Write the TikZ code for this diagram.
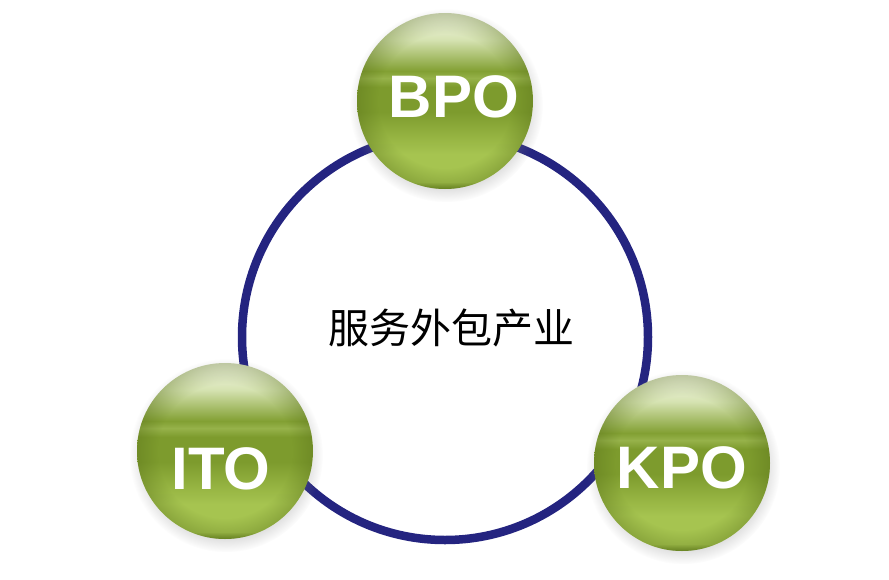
\documentclass[tikz,border=0pt]{standalone}
\usepackage{fontspec}
\usepackage{xcolor}
\usepackage{tikz}
\usetikzlibrary{shadows, fadings}
\newfontfamily\ballfont{Liberation Sans}
\newfontfamily\cjk{Noto Sans CJK SC}

\definecolor{ringblue}{RGB}{36,36,128}
\definecolor{balltop}{RGB}{246,248,236}
\definecolor{ballpale}{RGB}{214,227,178}
\definecolor{ballhi}{RGB}{150,178,74}
\definecolor{ballmid}{RGB}{125,155,45}
\definecolor{ballbot}{RGB}{166,196,80}
\definecolor{ballrim}{RGB}{86,110,24}

% 25bp = bottom of the ball, 75bp = top of the ball
\pgfdeclareverticalshading{ballshade}{100bp}{color(0bp)=(ballmid!90!black); color(25bp)=(ballmid!90!black); color(27bp)=(ballbot); color(35bp)=(ballbot); color(47bp)=(ballmid); color(54bp)=(ballmid); color(56.5bp)=(ballhi); color(58.5bp)=(ballmid!80!ballhi); color(67.5bp)=(ballpale); color(75bp)=(balltop); color(100bp)=(balltop)}
\pgfdeclareradialshading{rimshade}{\pgfpointorigin}{color(0bp)=(black); color(19bp)=(black); color(25bp)=(black!65); color(50bp)=(black!65)}
\pgfdeclarefading{rimfade}{\pgfuseshading{rimshade}}

\begin{document}
\begin{tikzpicture}[x=1pt, y=-1pt]
\tikzstyle{ring} = [draw=ringblue, line width=8.5pt, shape=circle, minimum size=406pt, inner sep=0pt]
\tikzstyle{ball} = [shape=circle, minimum size=176pt, inner sep=0pt, shading=ballshade,
  circular drop shadow={shadow xshift=1pt, shadow yshift=-4pt, opacity=.25},
  path picture={\fill[ballrim, path fading=rimfade] (path picture bounding box.south west) rectangle (path picture bounding box.north east);}]
\tikzstyle{tag} = [text=white, font=\ballfont\bfseries\fontsize{60}{60}\selectfont]
\tikzstyle{title} = [font=\cjk\fontsize{41}{41}\selectfont]
  \useasboundingbox (0,0) rectangle (889,579);
  \fill [white] (0,0) rectangle (889,579);

  \draw
  node (ring) [ring] at (445,337) {}
  node (core) [title] at (451,328) {服务外包产业};

  \draw
  node (bpo) [ball] at (445,101) {}
  node (ito) [ball] at (225,451) {}
  node (kpo) [ball] at (682,463) {};

  \draw
  node (bpo-tag) [tag] at ([xshift=9pt, yshift=4.5pt]bpo.center) {BPO}
  node (ito-tag) [tag] at ([xshift=-4pt, yshift=-17.5pt]ito.center) {ITO}
  node (kpo-tag) [tag] at ([yshift=-5pt]kpo.center) {KPO};
\end{tikzpicture}
\end{document}
